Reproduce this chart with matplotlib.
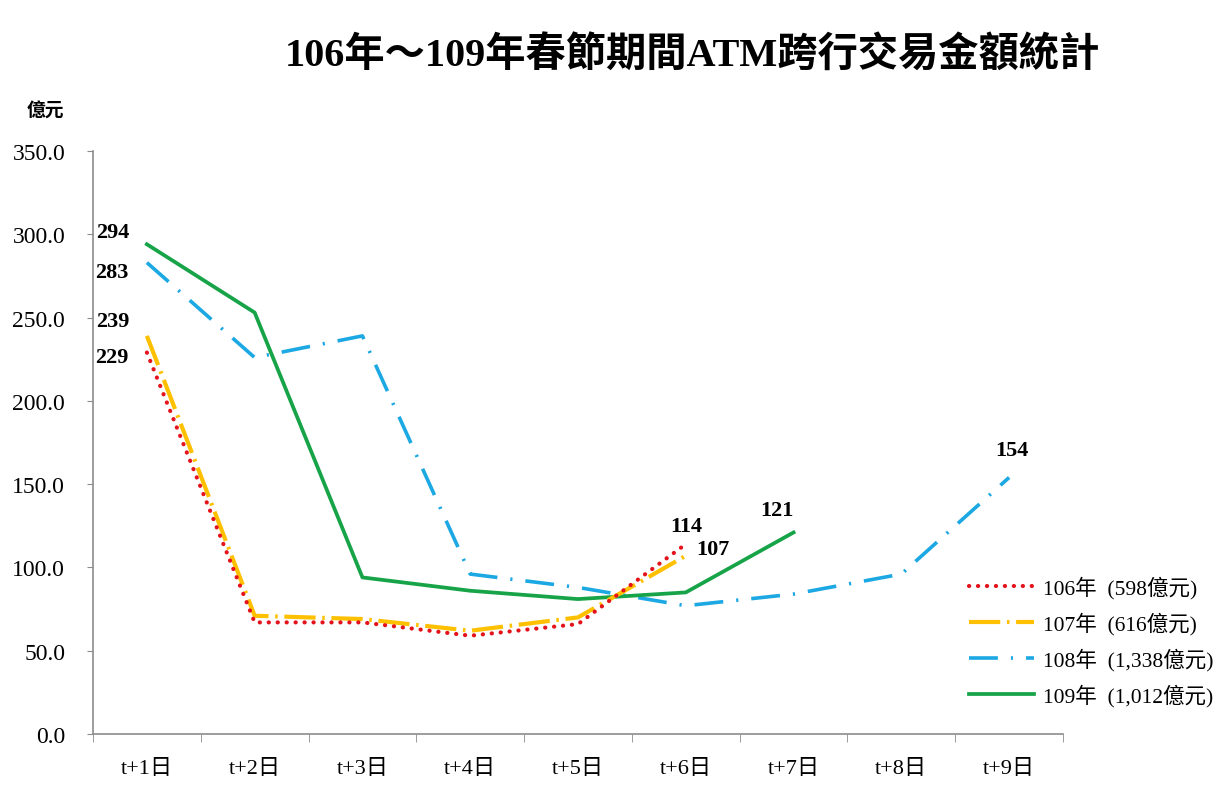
import numpy as np
import matplotlib
matplotlib.use("Agg")
import matplotlib.pyplot as plt
from matplotlib.ticker import MultipleLocator, FixedLocator

plt.rcParams['font.family'] = ['Liberation Serif', 'Noto Sans CJK TC']

# 資料
days = ['t+1日', 't+2日', 't+3日', 't+4日', 't+5日', 't+6日', 't+7日', 't+8日', 't+9日']
v106 = [229, 67, 67, 59, 66, 114]
v107 = [239, 71, 69, 62, 70, 107]
v108 = [283, 226, 239, 96, 88, 77, 84, 96, 154]
v109 = [294, 253, 94, 86, 81, 85, 121]
names = ['106年  (598億元)', '107年  (616億元)', '108年  (1,338億元)', '109年  (1,012億元)']

fig = plt.figure(figsize=(12.29, 8.12), dpi=100)
ax = fig.add_axes([93 / 1229, 77 / 812, 970 / 1229, 583 / 812])

x = np.arange(1, len(days) + 1)
l1, = ax.plot(x[:len(v106)], v106, color='#E3121B', lw=3, dashes=(0.05, 2.1),
              dash_capstyle='round', label=names[0], zorder=5)
l2, = ax.plot(x[:len(v107)], v107, color='#FFC000', lw=3, dashes=(7.5, 1.6, 0.6, 1.6),
              label=names[1], zorder=4)
l3, = ax.plot(x[:len(v108)], v108, color='#1CA8E3', lw=2.6, dashes=(8, 3.6, 0.6, 3.6),
              label=names[2], zorder=3)
l4, = ax.plot(x[:len(v109)], v109, color='#17A348', lw=2.7, label=names[3], zorder=3)

# 數值標籤
lab_kw = dict(textcoords='offset pixels', ha='center', va='center',
              fontsize=16, fontweight='bold')
ax.annotate(str(v109[0]), (1, v109[0]), xytext=(-34, 12), **lab_kw)
ax.annotate(str(v108[0]), (1, v108[0]), xytext=(-35, -9), **lab_kw)
ax.annotate(str(v107[0]), (1, v107[0]), xytext=(-34, 15), **lab_kw)
ax.annotate(str(v106[0]), (1, v106[0]), xytext=(-35, -4), **lab_kw)
ax.annotate(str(v106[-1]), (6, v106[-1]), xytext=(0, 18), **lab_kw)
ax.annotate(str(v107[-1]), (6, v107[-1]), xytext=(27, 7), **lab_kw)
ax.annotate(str(v109[-1]), (7, v109[-1]), xytext=(-17, 22), **lab_kw)
ax.annotate(str(v108[-1]), (9, v108[-1]), xytext=(3, 27), **lab_kw)

ax.set_xlim(0.5, 9.5)
ax.set_ylim(0, 350)
ax.yaxis.set_major_locator(MultipleLocator(50))
ax.set_yticklabels([f'{v:.1f}' for v in ax.get_yticks()], fontsize=17)
ax.set_xticks(x)
ax.set_xticklabels(days, fontsize=16)
ax.xaxis.set_minor_locator(FixedLocator(np.arange(0.5, 10, 1)))
ax.tick_params(axis='x', which='major', length=0, pad=18)
ax.tick_params(axis='x', which='minor', length=6, color='#8c8c8c', direction='out')
ax.tick_params(axis='y', length=4, color='#8c8c8c', pad=16)
for s in ['top', 'right']:
    ax.spines[s].set_visible(False)
for s in ['left', 'bottom']:
    ax.spines[s].set_color('#8c8c8c')
    ax.spines[s].set_linewidth(1.2)

fig.text(0.563, 0.932, '106年～109年春節期間ATM跨行交易金額統計', ha='center', va='center',
         fontsize=29, fontweight='bold')
fig.text(0.037, 0.864, '億元', ha='center', va='center', fontsize=13.5, fontweight='bold')

fig.legend(handles=[l1, l2, l3, l4], loc='center left', bbox_to_anchor=(0.773, 0.209),
           frameon=False, fontsize=15.5, handlelength=3.0, labelspacing=0.62,
           handletextpad=0.4)

fig.savefig('out.png', dpi=100)
